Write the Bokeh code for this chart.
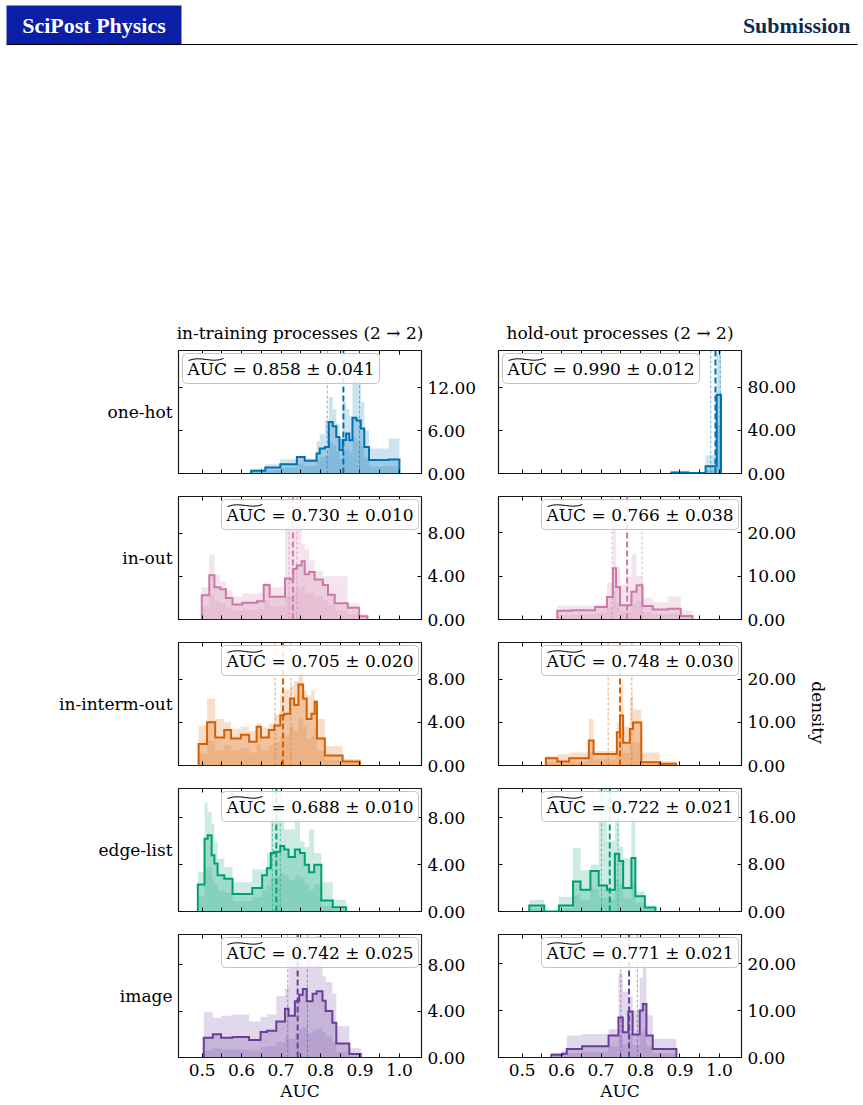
import math
from bokeh.plotting import figure
from bokeh.layouts import row, column
from bokeh.models import Range1d, LinearAxis, FixedTicker, NumeralTickFormatter, Span, Label
from bokeh.core.properties import value
from bokeh.embed import file_html
from bokeh.resources import INLINE

# ------------------------------------------------------------------ data
encodings = ["one-hot", "in-out", "in-interm-out", "edge-list", "image"]
colors = ["#0072B2", "#CC79A7", "#D55E00", "#009E73", "#6A3D9A"]
column_titles = ["in-training processes (2 \u2192 2)", "hold-out processes (2 \u2192 2)"]

train_mean = [0.858, 0.730, 0.705, 0.688, 0.742]
train_std = [0.041, 0.010, 0.020, 0.010, 0.025]
holdout_mean = [0.990, 0.766, 0.748, 0.722, 0.771]
holdout_std = [0.012, 0.038, 0.030, 0.021, 0.021]

train_ymax = [17.2, 11.4, 11.4, 10.5, 10.6]
holdout_ymax = [114.0, 28.3, 28.6, 20.9, 26.2]
train_yticks = [[0, 6, 12], [0, 4, 8], [0, 4, 8], [0, 4, 8], [0, 4, 8]]
holdout_yticks = [[0, 40, 80], [0, 10, 20], [0, 10, 20], [0, 8, 16], [0, 10, 20]]

x_major_ticks = [0.5, 0.6, 0.7, 0.8, 0.9, 1.0]
x_minor_ticks = [0.55, 0.65, 0.75, 0.85, 0.95]
x_limits = (0.440, 1.056)

# histogram bin edges, density of the mean run, upper and lower envelopes
onehot_train_edges = [0.624, 0.660, 0.698, 0.740, 0.760, 0.790, 0.798, 0.811, 0.821, 0.831, 0.840,
                      0.848, 0.856, 0.865, 0.873, 0.881, 0.891, 0.902, 0.911, 0.923, 0.973, 1.000]
onehot_train_main = [0.37, 0.84, 1.3, 2.3, 1.8, 2.8, 3.5, 3.7, 7.2, 6.6, 5.1, 3.3, 4.7, 5.6, 4.65,
                     7.8, 7.4, 6.3, 3.7, 1.9, 1.95]
onehot_train_upper = [0.6, 1.3, 2.0, 2.4, 2.1, 4.5, 5.5, 7.4, 10.7, 9.0, 7.0, 5.0, 10.0, 9.0, 8.0,
                      13.7, 13.0, 10.0, 6.0, 3.5, 4.9]
onehot_train_lower = [0.2, 0.5, 0.8, 1.4, 1.1, 1.8, 2.3, 2.4, 4.4, 4.0, 3.1, 2.1, 2.9, 3.5, 3.0,
                      4.9, 4.5, 3.8, 2.2, 1.0, 1.0]

onehot_hold_edges = [0.878, 0.922, 0.965, 0.993, 1.004]
onehot_hold_main = [0.9, 0.5, 6.8, 73.0]
onehot_hold_upper = [2.5, 1.5, 17.0, 120.0]
onehot_hold_lower = [0.4, 0.2, 3.5, 45.0]

inout_train_edges = [0.499, 0.518, 0.531, 0.546, 0.560, 0.577, 0.602, 0.639, 0.656, 0.671, 0.710,
                     0.723, 0.731, 0.740, 0.752, 0.760, 0.771, 0.785, 0.806, 0.819, 0.836, 0.869,
                     0.898, 0.919]
inout_train_main = [2.24, 4.1, 3.0, 2.8, 2.0, 1.4, 1.56, 1.7, 3.2, 2.1, 3.8, 3.7, 4.7, 5.0, 5.4,
                    4.2, 4.4, 3.7, 3.2, 2.3, 1.5, 1.1, 0.3]
inout_train_upper = [3.0, 6.0, 4.1, 3.5, 2.7, 2.1, 2.4, 2.5, 3.4, 3.0, 8.5, 9.0, 8.5, 11.5, 7.0,
                     6.5, 5.5, 4.5, 4.0, 4.0, 4.0, 1.5, 0.5]
inout_train_lower = [1.2, 2.3, 1.7, 1.5, 1.1, 0.8, 0.9, 1.0, 1.8, 1.2, 2.2, 2.1, 2.7, 2.9, 3.1,
                     2.4, 2.5, 2.1, 1.8, 1.3, 0.8, 0.5, 0.1]

inout_hold_edges = [0.589, 0.623, 0.685, 0.715, 0.730, 0.738, 0.748, 0.765, 0.777, 0.790, 0.805,
                    0.831, 0.869, 0.902, 0.932]
inout_hold_main = [2.0, 2.15, 2.9, 5.2, 11.8, 7.5, 3.3, 3.3, 6.4, 7.9, 3.1, 2.3, 2.5, 0.8]
inout_hold_upper = [3.2, 3.2, 3.5, 8.5, 22.0, 12.0, 8.0, 10.0, 15.0, 10.0, 5.0, 4.0, 5.3, 2.0]
inout_hold_lower = [1.0, 1.1, 1.6, 2.8, 6.5, 4.0, 1.8, 1.8, 3.5, 4.3, 1.7, 1.2, 1.3, 0.4]

interm_train_edges = [0.491, 0.5125, 0.533, 0.556, 0.573, 0.598, 0.619, 0.638, 0.649, 0.669, 0.683,
                      0.698, 0.708, 0.723, 0.733, 0.744, 0.756, 0.765, 0.777, 0.785, 0.791, 0.811,
                      0.856, 0.900]
interm_train_main = [2.0, 4.0, 2.6, 3.3, 2.5, 2.85, 2.2, 3.6, 2.6, 3.3, 3.7, 4.65, 4.8, 6.2, 5.6,
                     7.5, 6.2, 4.3, 4.8, 5.9, 2.5, 0.93, 0.37]
interm_train_upper = [3.7, 6.2, 4.3, 4.0, 3.4, 3.6, 3.2, 3.9, 3.5, 3.9, 4.7, 6.5, 7.0, 7.4, 7.8,
                      8.6, 7.0, 6.5, 7.0, 6.0, 4.3, 1.8, 0.6]
interm_train_lower = [1.1, 2.3, 1.4, 1.9, 1.4, 1.6, 1.2, 2.0, 1.4, 1.9, 2.1, 2.7, 2.8, 3.6, 3.2,
                      4.4, 3.6, 2.5, 2.8, 3.4, 1.4, 0.5, 0.2]

interm_hold_edges = [0.560, 0.589, 0.619, 0.669, 0.681, 0.740, 0.748, 0.756, 0.773, 0.781, 0.802,
                     0.848, 0.890]
interm_hold_main = [1.7, 0.93, 1.7, 5.8, 2.7, 7.75, 11.6, 5.3, 8.5, 10.0, 0.78, 0.4]
interm_hold_upper = [2.2, 2.6, 3.0, 10.8, 3.4, 10.0, 19.0, 9.0, 16.0, 13.0, 3.0, 1.0]
interm_hold_lower = [0.9, 0.5, 0.9, 3.0, 1.4, 4.2, 6.3, 2.9, 4.6, 5.4, 0.4, 0.2]

edge_train_edges = [0.489, 0.506, 0.514, 0.524, 0.531, 0.539, 0.556, 0.577, 0.627, 0.652, 0.664,
                    0.674, 0.683, 0.698, 0.708, 0.719, 0.735, 0.748, 0.760, 0.771, 0.784, 0.802,
                    0.831, 0.865]
edge_train_main = [2.3, 6.2, 6.5, 4.8, 4.1, 3.1, 2.8, 1.5, 2.0, 3.1, 3.7, 5.0, 5.1, 5.6, 5.3,
                   4.65, 5.3, 5.0, 4.0, 3.35, 4.0, 0.93, 0.37]
edge_train_upper = [3.4, 9.3, 8.5, 7.5, 6.0, 4.5, 3.8, 2.5, 3.6, 3.6, 5.0, 8.0, 10.0, 8.8, 7.0,
                    7.0, 8.0, 6.0, 5.5, 7.0, 5.0, 2.5, 1.0]
edge_train_lower = [1.3, 3.6, 3.8, 2.8, 2.4, 1.8, 1.6, 0.9, 1.2, 1.8, 2.2, 2.9, 3.0, 3.3, 3.1,
                    2.7, 3.1, 2.9, 2.3, 1.9, 2.3, 0.5, 0.2]

edge_hold_edges = [0.518, 0.556, 0.593, 0.629, 0.648, 0.673, 0.694, 0.715, 0.735, 0.746, 0.756,
                   0.777, 0.787, 0.811, 0.838]
edge_hold_main = [1.0, 0.0, 1.0, 5.1, 3.7, 6.9, 4.4, 3.7, 9.8, 8.6, 4.0, 9.1, 2.6, 0.7]
edge_hold_upper = [2.0, 0.0, 2.5, 10.8, 7.0, 8.0, 21.0, 12.0, 16.0, 11.0, 9.0, 16.0, 3.4, 1.0]
edge_hold_lower = [0.5, 0.0, 0.5, 2.8, 2.0, 3.8, 2.4, 2.0, 5.4, 4.7, 2.2, 5.0, 1.4, 0.4]

image_train_edges = [0.504, 0.527, 0.548, 0.577, 0.619, 0.648, 0.664, 0.688, 0.710, 0.719, 0.735,
                     0.746, 0.755, 0.765, 0.780, 0.790, 0.805, 0.813, 0.830, 0.840, 0.873, 0.902]
image_train_main = [1.7, 2.0, 1.7, 1.76, 1.5, 2.2, 2.3, 3.1, 4.2, 3.6, 4.85, 5.4, 5.9, 4.85, 5.5,
                    5.7, 4.9, 4.0, 3.0, 1.2, 0.3]
image_train_upper = [3.9, 3.4, 3.6, 3.7, 3.1, 3.5, 3.7, 5.3, 6.0, 8.5, 9.0, 8.5, 8.0, 9.5, 8.0,
                     10.5, 7.0, 6.5, 5.5, 2.7, 0.8]
image_train_lower = [0.6, 0.8, 0.7, 0.7, 0.6, 0.9, 1.0, 1.3, 1.8, 1.6, 2.1, 2.4, 2.6, 2.1, 2.4,
                     2.5, 2.2, 1.8, 1.3, 0.5, 0.1]

image_hold_edges = [0.574, 0.602, 0.613, 0.652, 0.719, 0.744, 0.755, 0.769, 0.780, 0.798, 0.806,
                    0.815, 0.831, 0.891]
image_hold_main = [0.58, 0.8, 1.8, 2.4, 4.7, 8.5, 5.4, 9.8, 4.9, 10.0, 11.4, 4.7, 1.8]
image_hold_upper = [1.0, 1.5, 4.7, 5.0, 6.0, 18.0, 14.0, 13.0, 10.0, 17.0, 23.0, 9.0, 4.0]
image_hold_lower = [0.3, 0.4, 0.9, 1.2, 2.4, 4.5, 2.8, 5.2, 2.6, 5.3, 6.1, 2.5, 0.9]

hists = {
    (0, 0): (onehot_train_edges, onehot_train_main, onehot_train_upper, onehot_train_lower),
    (0, 1): (onehot_hold_edges, onehot_hold_main, onehot_hold_upper, onehot_hold_lower),
    (1, 0): (inout_train_edges, inout_train_main, inout_train_upper, inout_train_lower),
    (1, 1): (inout_hold_edges, inout_hold_main, inout_hold_upper, inout_hold_lower),
    (2, 0): (interm_train_edges, interm_train_main, interm_train_upper, interm_train_lower),
    (2, 1): (interm_hold_edges, interm_hold_main, interm_hold_upper, interm_hold_lower),
    (3, 0): (edge_train_edges, edge_train_main, edge_train_upper, edge_train_lower),
    (3, 1): (edge_hold_edges, edge_hold_main, edge_hold_upper, edge_hold_lower),
    (4, 0): (image_train_edges, image_train_main, image_train_upper, image_train_lower),
    (4, 1): (image_hold_edges, image_hold_main, image_hold_upper, image_hold_lower),
}

# ------------------------------------------------------------------ layout constants
SERIF = "DejaVu Serif"
FS = "17px"
FW, FH = 243, 123            # plot frame size
PAD_L = 4                    # border left of each frame
PAD_R = [73, 62]             # border right of each frame (room for tick labels)
TOP_FIRST, TOP_OTHER = 40, 12
BOT_LAST, BOT_OTHER = 48, 11
LABEL_W = 174
DENS_W = 60
HEADER_H = 310
ROW_PITCH = FH + TOP_OTHER + BOT_OTHER
BODY_H = (TOP_FIRST + FH + BOT_OTHER) + 3 * ROW_PITCH + (TOP_OTHER + FH + BOT_LAST)


def style_axis(ax, ticker, labels, fmt=None):
    ax.ticker = ticker
    ax.major_tick_in = 4
    ax.major_tick_out = 0
    ax.minor_tick_in = 4
    ax.minor_tick_out = 0
    ax.major_tick_line_color = "black"
    ax.minor_tick_line_color = "black"
    ax.axis_line_color = None
    if labels:
        ax.formatter = fmt
        ax.major_label_text_font = SERIF
        ax.major_label_text_font_size = FS
        ax.major_label_text_color = "black"
        ax.major_label_standoff = 6
    else:
        # tick marks only
        ax.major_label_text_font_size = "1px"
        ax.major_label_text_color = None
        ax.major_label_standoff = 0


def step_outline(edges, heights):
    xs, ys = [edges[0]], [0.0]
    for i, h in enumerate(heights):
        xs += [edges[i], edges[i + 1]]
        ys += [h, h]
    xs.append(edges[-1])
    ys.append(0.0)
    return xs, ys


def make_panel(r, c):
    first, last = r == 0, r == 4
    edges, main, upper, lower = hists[(r, c)]
    col = colors[r]
    mean = (train_mean if c == 0 else holdout_mean)[r]
    std = (train_std if c == 0 else holdout_std)[r]
    ymax = (train_ymax if c == 0 else holdout_ymax)[r]
    yticks = (train_yticks if c == 0 else holdout_yticks)[r]

    p = figure(frame_width=FW, frame_height=FH,
               x_range=Range1d(*x_limits), y_range=Range1d(0, ymax),
               y_axis_location="right", title=column_titles[c] if first else None,
               output_backend="svg", toolbar_location=None,
               min_border_left=PAD_L, min_border_right=PAD_R[c],
               min_border_top=TOP_FIRST if first else TOP_OTHER,
               min_border_bottom=BOT_LAST if last else BOT_OTHER)
    p.grid.visible = False
    p.outline_line_color = "#1a1a1a"
    p.outline_line_width = 1.2
    p.background_fill_color = "white"
    p.border_fill_color = "white"

    if first:
        p.title.align = "center"
        p.title.text_font = SERIF
        p.title.text_font_size = FS
        p.title.text_font_style = "normal"
        p.title.text_color = "black"
        p.title.standoff = 15

    xt = FixedTicker(ticks=x_major_ticks, minor_ticks=x_minor_ticks)
    yt = FixedTicker(ticks=yticks, minor_ticks=[])
    style_axis(p.xaxis[0], xt, last, NumeralTickFormatter(format="0.0"))
    style_axis(p.yaxis[0], yt, True, NumeralTickFormatter(format="0.00"))
    if last:
        p.xaxis[0].axis_label = "AUC"
        p.xaxis[0].axis_label_text_font = SERIF
        p.xaxis[0].axis_label_text_font_size = FS
        p.xaxis[0].axis_label_text_font_style = "normal"
        p.xaxis[0].axis_label_text_color = "black"
        p.xaxis[0].axis_label_standoff = 2
    left_ax = LinearAxis()
    style_axis(left_ax, FixedTicker(ticks=yticks, minor_ticks=[]), False)
    p.add_layout(left_ax, "left")
    top_ax = LinearAxis()
    style_axis(top_ax, FixedTicker(ticks=x_major_ticks, minor_ticks=x_minor_ticks), False)
    p.add_layout(top_ax, "above")

    # histogram layers: envelope, lower envelope, mean run
    base = [0.0] * len(edges)
    p.varea_step(x=edges, y1=base, y2=upper + [upper[-1]], step_mode="after",
                 fill_color=col, fill_alpha=0.2)
    p.varea_step(x=edges, y1=base, y2=lower + [lower[-1]], step_mode="after",
                 fill_color=col, fill_alpha=0.16)
    p.varea_step(x=edges, y1=base, y2=main + [main[-1]], step_mode="after",
                 fill_color=col, fill_alpha=0.22)
    ox, oy = step_outline(edges, main)
    p.line(ox, oy, line_color=col, line_width=2, line_join="miter")

    # mean and one-sigma markers
    for loc in (mean - std, mean + std):
        p.add_layout(Span(location=loc, dimension="height", line_color=col,
                          line_width=1, line_alpha=0.55, line_dash="3 2"))
    p.add_layout(Span(location=mean, dimension="height", line_color=col,
                      line_width=2, line_dash="6 3"))

    # summary box
    bx = 4 if first else 43
    by = FH - 3
    p.add_layout(Label(x=bx, y=by, x_units="screen", y_units="screen",
                       text=f"AUC = {mean:.3f} \u00b1 {std:.3f}",
                       text_font=SERIF, text_font_size=FS, text_color="black",
                       text_align="left", text_baseline="top",
                       background_fill_color="white", background_fill_alpha=0.85,
                       border_line_color="#c4c4c4", border_line_width=1,
                       padding=5, border_radius=4))
    # wide tilde above "AUC", drawn on top of the box
    tx = bx + 5
    sx = (x_limits[1] - x_limits[0]) / FW
    sy = ymax / FH
    x0 = x_limits[0] + (tx + 1) * sx
    x1 = x_limits[0] + (tx + 36) * sx
    yc = (by - 6) * sy
    tl = p.bezier(x0=[x0], y0=[yc - 1 * sy], x1=[x1], y1=[yc + 1 * sy],
                  cx0=[x0 + 13 * sx], cy0=[yc + 4 * sy], cx1=[x0 + 23 * sx], cy1=[yc - 4 * sy],
                  line_color="black", line_width=1)
    tl.level = "overlay"
    return p


def blank_fig(w, h, xr, yr):
    f = figure(width=w, height=h, x_range=xr, y_range=yr, output_backend="svg",
               toolbar_location=None, min_border=0, x_axis_location=None,
               y_axis_location=None)
    f.grid.visible = False
    f.outline_line_color = None
    f.background_fill_color = "white"
    f.border_fill_color = "white"
    return f


# header strip
header = blank_fig(863, HEADER_H, Range1d(0, 863), Range1d(HEADER_H, 0))
header.quad(left=[6], right=[181], top=[5], bottom=[44], fill_color="#0A1EA6", line_color=None)
header.text(x=[93.5], y=[25], text=["SciPost Physics"], text_font=value("Liberation Serif"),
            text_font_style="bold", text_font_size="22px", text_color="white",
            text_align="center", text_baseline="middle")
header.text(x=[850], y=[25], text=["Submission"], text_font=value("Liberation Serif"),
            text_font_style="bold", text_font_size="22px", text_color="#0E2C4E",
            text_align="right", text_baseline="middle")
header.segment(x0=[6], y0=[44], x1=[857], y1=[44], line_color="black", line_width=1)

# row labels
labels = blank_fig(LABEL_W, BODY_H, Range1d(0, LABEL_W), Range1d(BODY_H, 0))
centers = [TOP_FIRST + k * ROW_PITCH + FH / 2 for k in range(len(encodings))]
labels.text(x=[LABEL_W - 2] * len(encodings), y=centers, text=encodings,
            text_font=value(SERIF), text_font_size=FS, text_color="black",
            text_align="right", text_baseline="middle")

# shared y label
dens = blank_fig(DENS_W, BODY_H, Range1d(0, DENS_W), Range1d(BODY_H, 0))
dens.text(x=[14], y=[402], text=["density"], angle=-math.pi / 2,
          text_font=value(SERIF), text_font_size=FS, text_color="black",
          text_align="center", text_baseline="middle")

grid = column([row(make_panel(r, 0), make_panel(r, 1)) for r in range(len(encodings))])
page = column(header, row(labels, grid, dens))

open("out.html", "w").write(file_html(page, INLINE))
